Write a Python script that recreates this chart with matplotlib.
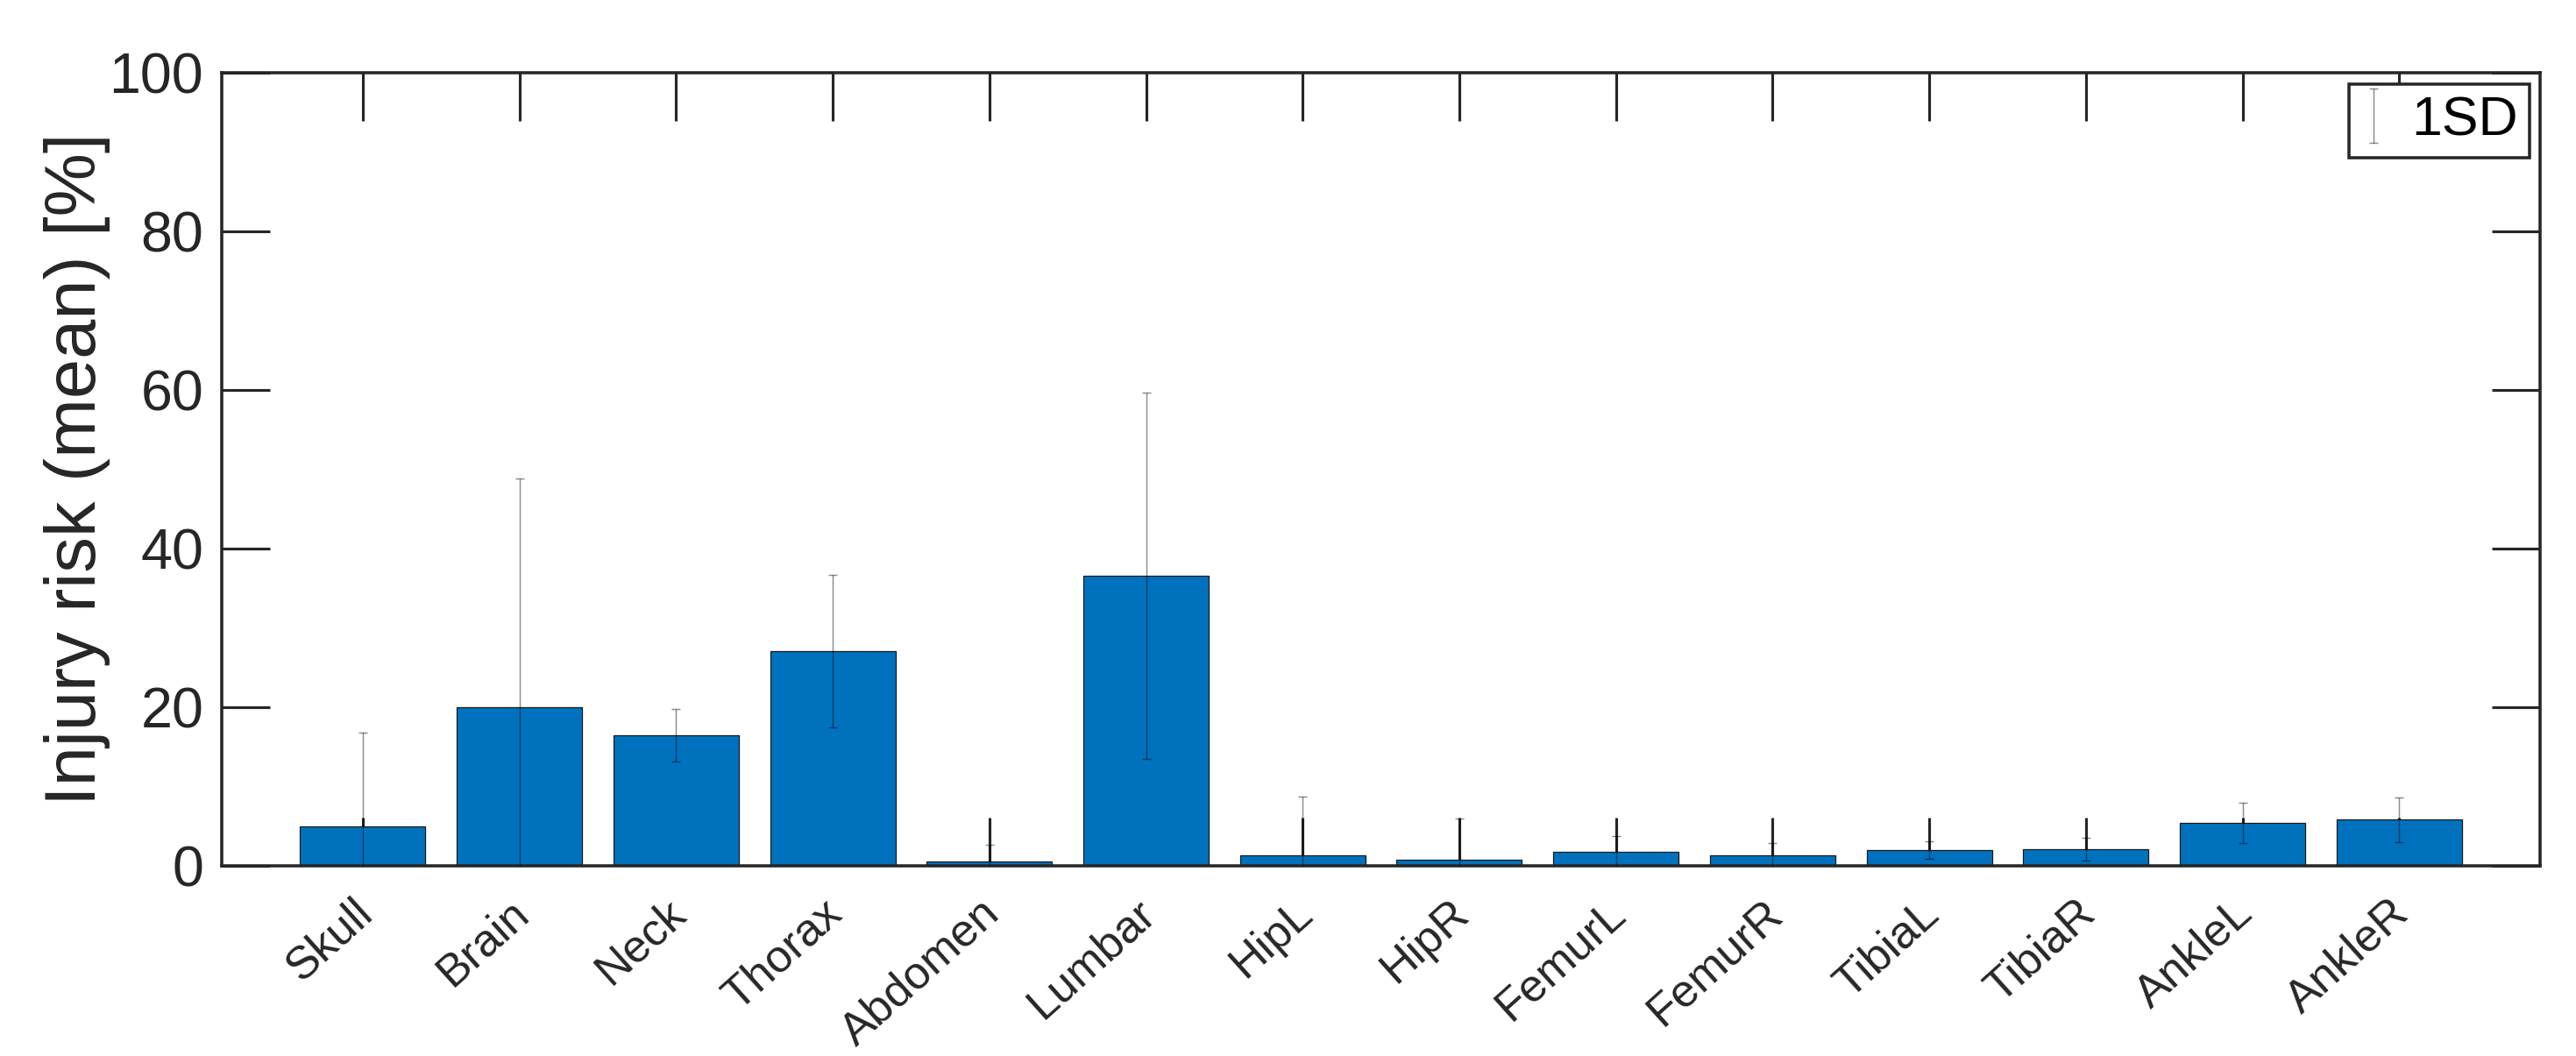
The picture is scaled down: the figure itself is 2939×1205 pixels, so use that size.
import numpy as np
import matplotlib.pyplot as plt
from matplotlib.transforms import ScaledTranslation

# injury risk per body region, mean and 1 SD
regions = ['Skull', 'Brain', 'Neck', 'Thorax', 'Abdomen', 'Lumbar', 'HipL',
           'HipR', 'FemurL', 'FemurR', 'TibiaL', 'TibiaR', 'AnkleL', 'AnkleR']
risk_mean = [5.0, 20.0, 16.5, 27.1, 0.6, 36.6, 1.3, 0.8, 1.8, 1.3, 2.0, 2.1, 5.4, 5.8]
risk_sd = [11.8, 28.8, 3.3, 9.6, 2.1, 23.1, 7.4, 5.2, 2.0, 1.6, 1.1, 1.4, 2.5, 2.85]
yticks = [0, 20, 40, 60, 80, 100]

plt.rcParams['font.family'] = ['Liberation Sans', 'DejaVu Sans']
dark = '#262626'

fig = plt.figure(figsize=(2939 / 300, 1205 / 300), dpi=300)
ax = fig.add_axes([0.0861, 0.1801, 0.9000, 0.7510])

x = np.arange(1, len(regions) + 1)
ax.bar(x, risk_mean, width=0.8, color='#0072BD', edgecolor='#1a1a1a',
       linewidth=0.3, zorder=1)
ax.errorbar(x, risk_mean, yerr=risk_sd, fmt='none', ecolor='black',
            alpha=0.45, elinewidth=0.35, capsize=1.2, capthick=0.35,
            zorder=3, label='1SD')

ax.set_xlim(0.1, 14.9)
ax.set_ylim(0, 100)
ax.set_yticks(yticks)
ax.set_xticks(x)
ax.set_xticklabels(regions, rotation=42, ha='right', va='top',
                   rotation_mode='anchor', fontsize=12.5)
ax.set_axisbelow(True)

ax.tick_params(which='both', direction='in', top=True, right=True,
               length=13.2, width=0.75, color=dark, labelcolor=dark)
ax.tick_params(axis='y', pad=5, labelsize=15.5)
ax.tick_params(axis='x', pad=7)
for lab in ax.get_xticklabels():
    lab.set_transform(lab.get_transform() +
                      ScaledTranslation(-12 / 300, 0, fig.dpi_scale_trans))

for s in ax.spines.values():
    s.set_linewidth(0.85)
    s.set_color(dark)

ax.set_ylabel('Injury risk (mean) [%]', fontsize=19.5, color=dark)
ax.yaxis.set_label_coords(-0.048, 0.5)

leg = ax.legend(loc='upper right', fontsize=15, fancybox=False,
                framealpha=1, edgecolor=dark, borderaxespad=0.2,
                handlelength=0.5, handletextpad=0.45, borderpad=0.2)
leg.get_frame().set_linewidth(0.85)

fig.savefig('out.png', dpi=300)
